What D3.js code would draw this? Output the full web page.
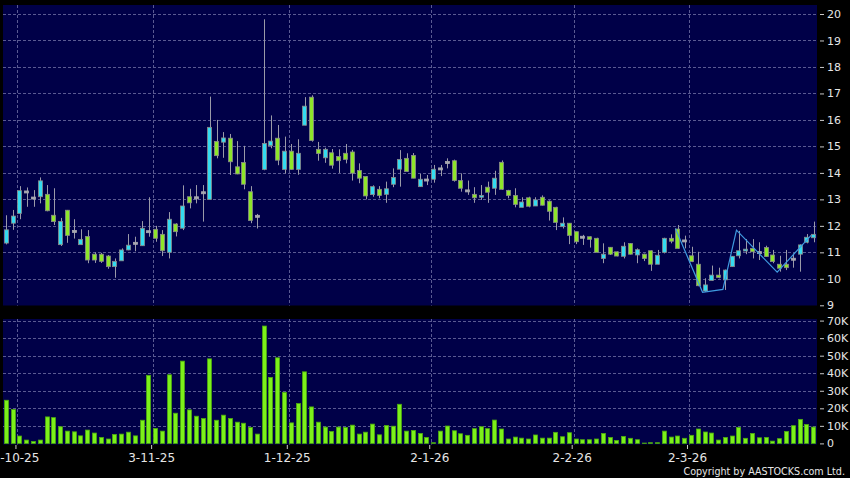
<!DOCTYPE html>
<html><head><meta charset="utf-8">
<script src="https://cdn.jsdelivr.net/npm/d3@7"></script>
<style>html,body{margin:0;padding:0;background:#000;}svg{display:block;}</style>
</head><body><svg id="c" width="850" height="478"></svg>
<script>
const dates = [
"29-9-25","30-9-25",
"2-10-25","3-10-25","6-10-25","8-10-25","9-10-25","10-10-25","13-10-25","14-10-25","15-10-25","16-10-25","17-10-25","20-10-25","21-10-25","22-10-25","23-10-25","24-10-25","27-10-25","28-10-25","30-10-25","31-10-25",
"3-11-25","4-11-25","5-11-25","6-11-25","7-11-25","10-11-25","11-11-25","12-11-25","13-11-25","14-11-25","17-11-25","18-11-25","19-11-25","20-11-25","21-11-25","24-11-25","25-11-25","26-11-25","27-11-25","28-11-25",
"1-12-25","2-12-25","3-12-25","4-12-25","5-12-25","8-12-25","9-12-25","10-12-25","11-12-25","12-12-25","15-12-25","16-12-25","17-12-25","18-12-25","19-12-25","22-12-25","23-12-25","24-12-25","29-12-25","30-12-25","31-12-25",
"2-1-26","5-1-26","6-1-26","7-1-26","8-1-26","9-1-26","12-1-26","13-1-26","14-1-26","15-1-26","16-1-26","19-1-26","20-1-26","21-1-26","22-1-26","23-1-26","26-1-26","27-1-26","28-1-26","29-1-26","30-1-26",
"2-2-26","3-2-26","4-2-26","5-2-26","6-2-26","9-2-26","10-2-26","11-2-26","12-2-26","13-2-26","16-2-26","20-2-26","23-2-26","24-2-26","25-2-26","26-2-26","27-2-26",
"2-3-26","3-3-26","4-3-26","5-3-26","6-3-26","9-3-26","10-3-26","11-3-26","12-3-26","13-3-26","16-3-26","17-3-26","18-3-26","19-3-26","20-3-26","23-3-26","24-3-26","25-3-26","26-3-26"
];
const open = [11.35,12.1,12.47,13.28,13.05,13.1,13.19,12.4,11.29,12.59,11.79,11.29,11.6,10.93,10.93,10.86,10.46,10.68,11.09,11.34,
11.25,11.78,11.87,11.68,11.0,12.07,11.91,13.1,13.06,13.25,13.0,15.19,15.16,15.31,14.23,14.39,13.29,12.36,14.13,15.03,
15.31,14.13,14.82,14.13,15.8,16.86,14.89,14.57,14.76,14.62,14.74,14.79,14.09,13.86,13.18,13.38,13.19,13.57,14.14,14.55,
14.66,13.48,13.73,13.76,14.15,14.39,14.46,13.71,13.32,13.19,13.08,13.46,13.42,14.4,13.34,13.15,12.7,13.06,12.75,13.08,
12.93,12.7,11.97,12.1,11.78,11.57,11.59,11.53,10.77,11.19,11.02,10.85,11.33,10.9,10.93,11.06,10.55,11.0,11.53,11.88,
11.43,10.87,10.55,9.54,9.94,10.14,9.96,10.46,10.87,11.05,11.15,10.99,11.18,10.9,10.55,10.55,10.74,10.93,11.38,11.55];
const high = [12.4,12.6,13.5,13.45,13.35,13.83,13.54,13.42,12.3,12.6,12.25,11.87,11.84,11.0,10.98,10.9,10.77,11.15,11.69,11.59,
12.18,13.08,12.0,11.84,12.52,12.1,13.53,13.4,13.54,13.54,16.88,16.0,15.54,15.47,15.2,15.02,13.5,12.45,19.8,16.17,
15.81,15.37,15.09,15.27,16.86,16.93,15.17,14.95,14.9,14.89,15.09,14.87,14.36,13.88,13.53,13.5,13.67,14.17,14.86,14.74,
14.75,13.96,13.92,14.3,14.3,14.55,14.5,13.98,13.71,13.46,13.54,13.67,14.08,14.47,13.36,13.42,13.08,13.1,13.08,13.15,
12.96,12.72,12.32,12.1,11.78,11.66,11.6,11.55,11.34,11.2,11.03,11.38,11.35,11.15,10.95,11.07,11.09,11.55,11.68,12.03,
11.63,11.21,11.02,10.02,10.5,10.42,10.35,10.86,11.81,11.5,11.5,11.38,11.25,11.09,10.87,11.09,10.96,11.3,11.69,12.16];
const low = [11.3,11.85,12.25,12.72,12.72,12.85,12.55,12.03,11.24,11.36,11.52,11.28,10.59,10.6,10.6,10.38,10.04,10.68,11.08,11.04,
11.24,11.59,11.4,10.86,10.77,11.6,11.84,12.66,12.85,12.16,13.0,14.55,14.57,13.92,13.95,13.38,12.1,11.9,14.1,14.93,
14.29,13.98,14.12,13.93,15.8,15.18,14.46,14.38,14.16,14.0,14.36,13.71,13.61,13.0,13.1,13.04,12.87,13.46,13.48,14.05,
13.8,13.47,13.54,13.63,13.88,14.17,13.67,13.29,13.17,12.87,12.98,12.87,13.17,13.36,13.04,12.7,12.7,12.7,12.75,12.77,
12.2,11.84,11.9,11.31,11.31,11.28,11.18,11.0,10.59,10.9,10.85,10.77,10.92,10.59,10.67,10.3,10.55,10.96,11.34,11.14,
11.15,10.63,9.72,9.51,9.93,10.02,9.58,10.45,10.77,10.93,10.77,10.71,10.83,10.59,10.27,10.33,10.42,10.27,11.34,11.38];
const close = [11.85,12.37,13.33,13.28,13.05,13.7,12.57,12.16,12.17,11.64,11.79,11.49,10.71,10.71,10.66,10.46,10.66,11.09,11.27,11.34,
11.91,11.78,11.53,11.06,12.25,11.78,12.75,12.87,13.06,13.25,15.72,14.65,15.32,14.42,13.96,13.57,12.2,12.36,15.11,15.2,
14.48,14.82,14.13,14.74,16.52,15.22,14.73,14.89,14.29,14.46,14.51,13.99,13.8,13.13,13.48,13.15,13.4,13.83,14.51,14.05,
13.8,13.76,13.73,14.14,14.15,14.39,13.71,13.42,13.32,13.06,13.15,13.27,13.8,13.38,13.15,12.81,12.9,12.74,12.98,12.78,
12.55,12.13,12.1,11.64,11.4,11.57,11.49,11.0,10.93,10.93,10.86,11.23,10.93,11.1,10.77,10.55,10.89,11.53,11.42,11.15,
11.43,10.65,9.74,9.77,10.14,10.05,10.33,10.85,11.06,11.12,11.02,10.99,10.84,10.65,10.4,10.42,10.74,11.28,11.57,11.68];
const volume = [24600,19300,4200,1900,1100,1900,15100,14700,9500,7000,6600,4300,7600,5900,3400,2500,5100,5300,6400,4300,
13200,38800,8500,7000,39100,17200,46900,19100,15500,14200,48200,13200,16100,14200,12100,11500,9100,5300,66900,37600,
48800,29100,11700,22700,40800,20800,12100,9300,6800,9300,9100,10400,5300,6400,11000,4900,10200,9800,22300,7000,
7400,5700,3400,400,7000,9900,7200,5500,4600,8400,9500,8400,13300,8200,2500,3600,3000,2500,4800,3000,
3000,6300,3800,6100,2500,2100,2100,2500,5700,3400,1700,4000,2900,2100,200,400,400,7000,3600,4200,
2900,4600,8200,6500,5900,1900,3400,4200,9100,2900,5700,3200,3400,1300,2700,6800,10100,13700,10800,9300];
const zigzagDates = ["26-2-26","4-3-26","9-3-26","11-3-26","19-3-26","26-3-26"];
const zigzagValues = [11.9,9.49,9.6,11.84,10.25,11.64];
const priceTicks = [9,10,11,12,13,14,15,16,17,18,19,20];
const volumeTicks = [0,10000,20000,30000,40000,50000,60000,70000];
const dateTicks = ["2-10-25","3-11-25","1-12-25","2-1-26","2-2-26","2-3-26"];

const svg = d3.select("#c");
const plotL = 3, plotR = 817;
const pTop = 5, pBot = 305.5, vTop = 319, vBot = 444.5;
const bg = "#000048", gridC = "#5a5a92", upC = "#34dcf0", dnC = "#8ee62a", edgeC = "#8a8a8a";

const x = d3.scaleBand().domain(dates).range([plotL, plotR]).paddingInner(0.26).paddingOuter(0.13);
const xc = d => x(d) + x.bandwidth() / 2;
const yP = d3.scaleLinear().domain([9, 20]).range([305.3, 14]);
const yV = d3.scaleLinear().domain([0, 70000]).range([443.4, 320.6]);

svg.append("rect").attr("width", 850).attr("height", 478).attr("fill", "#000");
svg.append("rect").attr("x", plotL).attr("y", pTop).attr("width", plotR - plotL).attr("height", pBot - pTop).attr("fill", bg);
svg.append("rect").attr("x", plotL).attr("y", vTop).attr("width", plotR - plotL).attr("height", vBot - vTop).attr("fill", bg);

const grid = svg.append("g").attr("stroke", gridC).attr("stroke-width", 1).attr("stroke-dasharray", "3,2");
grid.selectAll(".hp").data(priceTicks.filter(t => t > 9)).join("line")
  .attr("x1", plotL).attr("x2", plotR).attr("y1", d => Math.round(yP(d)) + 0.5).attr("y2", d => Math.round(yP(d)) + 0.5);
grid.selectAll(".hv").data(volumeTicks.filter(t => t > 0)).join("line").attr("class", "hv")
  .attr("x1", plotL).attr("x2", plotR).attr("y1", d => Math.round(yV(d)) + 0.5).attr("y2", d => Math.round(yV(d)) + 0.5);
dateTicks.forEach(t => {
  const gx = Math.round(x(t)) + 0.5;
  grid.append("line").attr("x1", gx).attr("x2", gx).attr("y1", pTop).attr("y2", pBot);
  grid.append("line").attr("x1", gx).attr("x2", gx).attr("y1", vTop).attr("y2", vBot);
});

const data = dates.map((d, i) => ({d, o: open[i], h: high[i], l: low[i], c: close[i], v: volume[i]}));
const cg = svg.append("g");
cg.selectAll(".wick").data(data).join("line")
  .attr("x1", d => Math.round(xc(d.d)) + 0.5).attr("x2", d => Math.round(xc(d.d)) + 0.5)
  .attr("y1", d => yP(d.h)).attr("y2", d => yP(d.l))
  .attr("stroke", "#9a9aa8").attr("stroke-width", 1);
cg.selectAll(".body").data(data).join("rect")
  .attr("x", d => Math.round(x(d.d)) + 0.5)
  .attr("width", Math.round(x.bandwidth()) - 1)
  .attr("y", d => d.o === d.c ? yP(d.c) - 1 : yP(Math.max(d.o, d.c)))
  .attr("height", d => d.o === d.c ? 2 : Math.max(1.5, Math.abs(yP(d.o) - yP(d.c))))
  .attr("fill", d => d.o === d.c ? "#a8a8b0" : (d.c > d.o ? upC : dnC))
  .attr("stroke", d => d.o === d.c ? "#a8a8b0" : edgeC).attr("stroke-width", 0.8);

const zz = zigzagDates.map((d, i) => [x(d), yP(zigzagValues[i])]);
svg.append("path").attr("d", d3.line()(zz)).attr("fill", "none").attr("stroke", "#3f9be0").attr("stroke-width", 1.2);

svg.append("g").selectAll("rect").data(data).join("rect")
  .attr("x", d => Math.round(x(d.d)) + 0.5).attr("width", Math.round(x.bandwidth()) - 1)
  .attr("y", d => yV(d.v)).attr("height", d => yV(0) - yV(d.v))
  .attr("fill", "#7cf01a").attr("stroke", "#4caa10").attr("stroke-width", 0.8);

const font = "'DejaVu Sans', Verdana, sans-serif";
function styleAxis(g, size) {
  g.select(".domain").remove();
  g.selectAll("line").attr("stroke", "#c8c8c8");
  g.selectAll("text").attr("fill", "#e6e6e6").style("font-family", font).style("font-size", size + "px");
}
svg.append("g").attr("transform", "translate(820,0)")
  .call(d3.axisRight(yP).tickValues(priceTicks).tickSize(4).tickPadding(3).tickFormat(d3.format("d")))
  .call(g => styleAxis(g, 11));
svg.append("g").attr("transform", "translate(820,0)")
  .call(d3.axisRight(yV).tickValues(volumeTicks).tickSize(4).tickPadding(3).tickFormat(v => v === 0 ? "0" : (v / 1000) + "K"))
  .call(g => styleAxis(g, 11));
const xTick = d3.scaleOrdinal().domain(dates).range(dates.map(d => x(d) - 2));
svg.append("g").attr("transform", "translate(0,445)")
  .call(d3.axisBottom(xTick).tickValues(dateTicks).tickSize(4).tickPadding(4))
  .call(g => styleAxis(g, 12));
svg.append("text").attr("x", 845).attr("y", 474.5).attr("text-anchor", "end")
  .attr("fill", "#e6e6e6").style("font-family", font).style("font-size", "9.6px")
  .text("Copyright by AASTOCKS.com Ltd.");
</script></body></html>
